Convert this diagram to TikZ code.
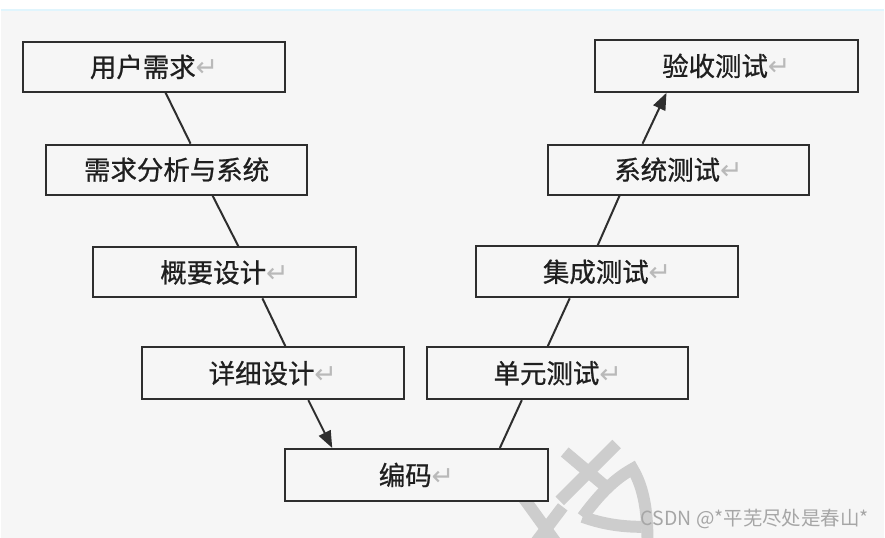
\documentclass[tikz,border=0pt]{standalone}
\usepackage{fontspec}
\setmainfont{Noto Sans CJK SC}
\newfontfamily\boxfont{Noto Sans CJK SC}[FakeBold=0.8]
\newfontfamily\symfont{DejaVu Sans}
\usetikzlibrary{arrows.meta}
\definecolor{bg}{HTML}{F6F6F6}
\definecolor{edge}{HTML}{2E2E2E}
\definecolor{wm}{HTML}{CDCDCD}
\newcommand{\rmk}{\textcolor{gray!55}{\symfont\fontsize{27}{27}\selectfont ↵}}
\tikzset{
  stagebox/.style={draw=edge, line width=2pt, fill=bg, minimum height=50pt, inner sep=0pt,
    font=\boxfont\fontsize{26.5}{30}\selectfont, text=black!88},
  link/.style={draw=edge, line width=2pt},
  arr/.style={link, -{Triangle[length=17pt,width=13pt]}},
  wmark/.style={draw=wm, line width=12pt}
}
\begin{document}
\begin{tikzpicture}[x=1pt,y=-1pt]
\fill[bg] (0,0) rectangle (885,539);
\fill[white] (0,0) rectangle (885,9);
\draw[cyan!12, line width=2pt] (0,10) -- (885,10);
\useasboundingbox (0,0) rectangle (885,539);
% watermark shapes
\begin{scope}
\clip (0,0) rectangle (885,539);
\draw[wmark] (565,453) -- (610,491);
\draw[wmark] (617,445) -- (560,502);
\draw[wmark] (523,498) -- (557,545);
\draw[wmark] (563,508) -- (535,545);
\draw[wmark] (583,518) .. controls (600,495) and (615,480) .. (633,470)
  .. controls (645,490) and (648,515) .. (648,545);
\draw[wmark] (583,518) .. controls (605,526) and (625,528) .. (642,528);
\end{scope}
% boxes
\node[stagebox, minimum width=263pt] (u) at (153.5,67) {用户需求\rmk};
\node[stagebox, minimum width=262pt] (r) at (176,170) {需求分析与系统};
\node[stagebox, minimum width=264pt] (g) at (224,273) {概要设计\rmk};
\node[stagebox, minimum width=263pt, minimum height=52pt] (x) at (272.5,374) {详细设计\rmk};
\node[stagebox, minimum width=263pt, minimum height=52pt] (c) at (416.5,476) {编码\rmk};
\node[stagebox, minimum width=262pt, minimum height=52pt] (dy) at (558,374) {单元测试\rmk};
\node[stagebox, minimum width=263pt, minimum height=51pt] (j) at (607.5,272.5) {集成测试\rmk};
\node[stagebox, minimum width=262pt] (s) at (679,170) {系统测试\rmk};
\node[stagebox, minimum width=264pt, minimum height=52pt] (ys) at (727,66) {验收测试\rmk};
% connectors
\draw[link] ([xshift=11.5pt]u.south) -- ([xshift=14pt]r.north);
\draw[link] ([xshift=36pt]r.south) -- ([xshift=14pt]g.north);
\draw[link] ([xshift=38pt]g.south) -- ([xshift=12.5pt]x.north);
\draw[arr] ([xshift=35.5pt]x.south) -- ([xshift=-84.5pt]c.north);
\draw[link] ([xshift=83.5pt]c.north) -- ([xshift=-36pt]dy.south);
\draw[link] ([xshift=-10pt]dy.north) -- ([xshift=-37.5pt]j.south);
\draw[link] ([xshift=-9.5pt]j.north) -- ([xshift=-59pt]s.south);
\draw[arr] ([xshift=-36pt]s.north) -- ([xshift=-60pt]ys.south);
% watermark text
\node[text=gray!70, font=\fontsize{19.5}{22}\selectfont, anchor=east, inner sep=0pt] (wt) at (870,520) {CSDN @*平芜尽处是春山*};
\end{tikzpicture}
\end{document}
